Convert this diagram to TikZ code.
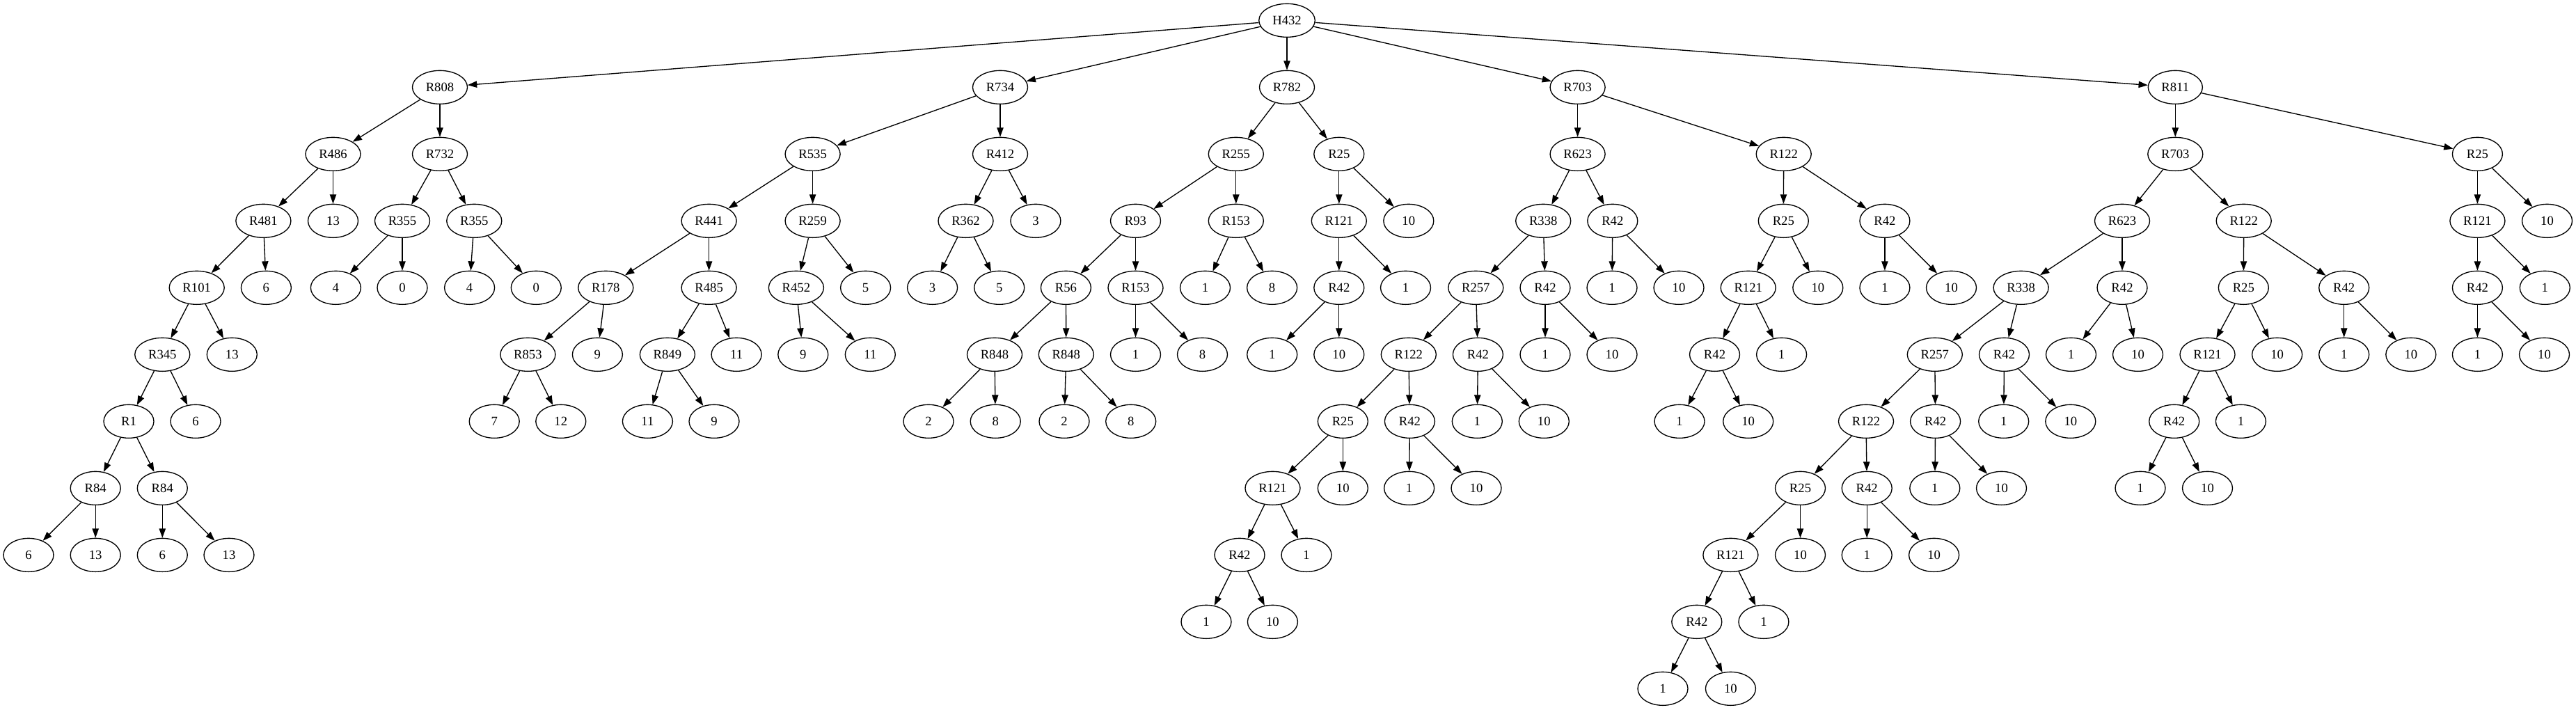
\documentclass[tikz,border=0pt]{standalone}
\usepackage{fontspec}
\setmainfont{Liberation Serif}
\usetikzlibrary{shapes.geometric,arrows.meta}
\begin{document}
\begin{tikzpicture}[x=0.75pt, y=-72pt,
	tn/.style={ellipse, draw, line width=1pt, minimum width=54pt, minimum height=36pt, inner xsep=5.8pt, inner ysep=0pt, font=\fontsize{14}{16}\selectfont},
	arr/.style={-{Triangle[length=10pt,width=7pt]}, line width=1pt}]
	    \useasboundingbox (0,-0.3056) rectangle (3701,10.309);
	    \foreach \id/\px/\rk/\lab in {
		1/1849/0/H432,
		2/632/1/R808, 25/1437/1/R734, 48/1849/1/R782, 71/2266.6/1/R703, 106/3125.3/1/R811,
		3/478.5/2/R486, 4/632/2/R732, 26/1167.6/2/R535, 27/1437/2/R412, 49/1775.8/2/R255, 50/1923.8/2/R25,
		72/2266.6/2/R623, 73/2562.7/2/R122, 107/3125.3/2/R703, 108/3559.4/2/R25,
		5/378.4/3/R481, 6/478.5/3/13, 7/578/3/R355, 8/681.3/3/R355, 28/1018.6/3/R441, 29/1167.6/3/R259,
		30/1387.5/3/R362, 31/1487.9/3/3, 51/1631.5/3/R93, 52/1775.8/3/R153, 53/1923.8/3/R121, 54/2023.8/3/10,
		74/2217.2/3/R338, 75/2316.8/3/R42, 76/2562.3/3/R25, 77/2707.9/3/R42,
		109/3049/3/R623, 110/3223.7/3/R122, 111/3559.4/3/R121, 112/3659.5/3/10,
		9/282.7/4/R101, 10/382.4/4/6, 11/482.4/4/4, 12/578/4/0, 13/674.6/4/4, 14/770.3/4/0,
		32/870.3/4/R178, 33/1018.6/4/R485, 34/1143.9/4/R452, 35/1243.6/4/5, 36/1339.6/4/3, 37/1435.7/4/5,
		55/1531.4/4/R56, 56/1631.5/4/R153, 57/1731.5/4/1, 58/1827.6/4/8, 59/1923.8/4/R42, 60/2019.5/4/1,
		78/2120.3/4/R257, 79/2220/4/R42, 80/2316/4/1, 81/2412/4/10, 82/2511.7/4/R121, 83/2611.8/4/10,
		84/2707.9/4/1, 85/2803.5/4/10, 113/2903.6/4/R338, 114/3049/4/R42, 115/3223.3/4/R25, 116/3367.7/4/R42,
		117/3559.4/4/R42, 118/3656.3/4/1,
		15/233.3/5/R345, 16/333.3/5/13, 38/758.4/5/R853, 39/858.4/5/9, 40/958.9/5/R849, 41/1058.1/5/11,
		42/1153.8/5/9, 43/1250.3/5/11, 61/1429/5/R848, 62/1531.8/5/R848, 63/1631.5/5/1, 64/1727.5/5/8,
		65/1827.7/5/1, 66/1923.8/5/10, 86/2023.8/5/R122, 87/2123.4/5/R42, 88/2220/5/1, 89/2316/5/10,
		90/2463.5/5/R42, 91/2559.6/5/1, 119/2779.8/5/R257, 120/2879.5/5/R42, 121/2975.5/5/1, 122/3071.5/5/10,
		123/3171.5/5/R121, 124/3271.6/5/10, 125/3367.7/5/1, 126/3463.8/5/10, 127/3559.4/5/1, 128/3655.5/5/10,
		17/185/6/R1, 18/281/6/6, 44/710.2/6/7, 45/805.8/6/12, 46/930.4/6/11, 47/1026/6/9,
		67/1334/6/2, 68/1430.2/6/8, 69/1529/6/2, 70/1624.7/6/8, 92/1929.3/6/R25, 93/2025.4/6/R42,
		94/2122.3/6/1, 95/2218.3/6/10, 96/2413/6/1, 97/2511.7/6/10, 129/2681/6/R122, 130/2780.6/6/R42,
		131/2878.7/6/1, 132/2974.8/6/10, 133/3123.7/6/R42, 134/3219.4/6/1,
		19/137.2/7/R84, 20/233.3/7/R84, 98/1828.5/7/R121, 99/1929.3/7/10, 100/2024.6/7/1, 101/2121/7/10,
		135/2586.5/7/R25, 136/2682.2/7/R42, 137/2779.8/7/1, 138/2875.5/7/10, 139/3075/7/1, 140/3171.5/7/10,
		21/41/8/6, 22/137.2/8/13, 23/233.3/8/6, 24/329/8/13, 102/1781/8/R42, 103/1877/8/1,
		141/2486.4/8/R121, 142/2586.5/8/10, 143/2682.2/8/1, 144/2778.6/8/10,
		104/1733/9/1, 105/1828.4/9/10, 145/2437.8/9/R42, 146/2533.9/9/1,
		147/2389/10/1, 148/2486.4/10/10}
		\node[tn] (\id) at (\px,\rk) {\lab};
		
	    \foreach \a/\b in {1/2, 1/25, 1/48, 1/71, 1/106,
		2/3, 2/4, 3/5, 3/6, 4/7, 4/8, 5/9, 5/10, 7/11, 7/12, 8/13, 8/14, 9/15, 9/16,
		15/17, 15/18, 17/19, 17/20, 19/21, 19/22, 20/23, 20/24,
		25/26, 25/27, 26/28, 26/29, 27/30, 27/31, 28/32, 28/33, 29/34, 29/35, 30/36, 30/37,
		32/38, 32/39, 33/40, 33/41, 34/42, 34/43, 38/44, 38/45, 40/46, 40/47,
		48/49, 48/50, 49/51, 49/52, 50/53, 50/54, 51/55, 51/56, 52/57, 52/58, 53/59, 53/60,
		55/61, 55/62, 56/63, 56/64, 59/65, 59/66, 61/67, 61/68, 62/69, 62/70,
		71/72, 71/73, 72/74, 72/75, 73/76, 73/77, 74/78, 74/79, 75/80, 75/81, 76/82, 76/83,
		77/84, 77/85, 78/86, 78/87, 79/88, 79/89, 82/90, 82/91, 86/92, 86/93, 87/94, 87/95,
		90/96, 90/97, 92/98, 92/99, 93/100, 93/101, 98/102, 98/103, 102/104, 102/105,
		106/107, 106/108, 107/109, 107/110, 108/111, 108/112, 109/113, 109/114, 110/115, 110/116,
		111/117, 111/118, 113/119, 113/120, 114/121, 114/122, 115/123, 115/124, 116/125, 116/126,
		117/127, 117/128, 119/129, 119/130, 120/131, 120/132, 123/133, 123/134, 129/135, 129/136,
		130/137, 130/138, 133/139, 133/140, 135/141, 135/142, 136/143, 136/144, 141/145, 141/146,
		145/147, 145/148}
		\draw[arr] (\a) -- (\b);
	\end{tikzpicture}
\end{document}
